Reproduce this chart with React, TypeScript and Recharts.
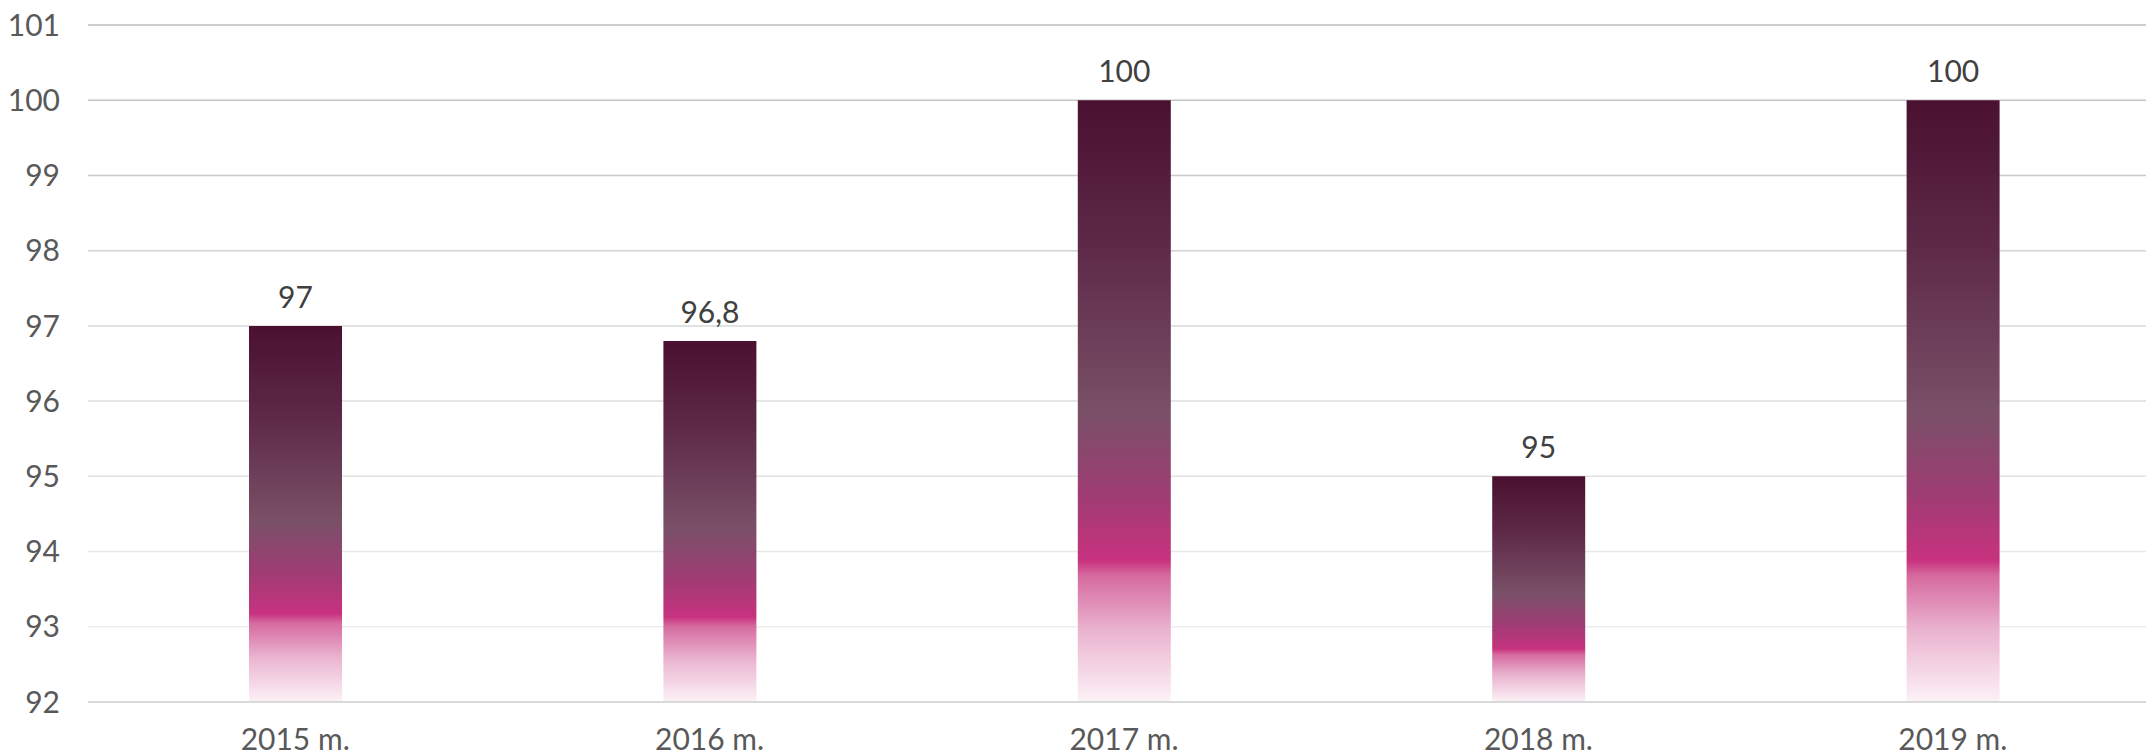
import React from "react";
import { BarChart, Bar, XAxis, YAxis, CartesianGrid, LabelList } from "recharts";

const years = ["2015 m.", "2016 m.", "2017 m.", "2018 m.", "2019 m."];
const values = [97, 96.8, 100, 95, 100];
const yTicks = [92, 93, 94, 95, 96, 97, 98, 99, 100, 101];

const data = years.map((year, i) => ({ year, value: values[i] }));

const font = "Lato, 'Open Sans', sans-serif";

export default function App() {
  return (
    <div style={{ position: "absolute", left: 0, top: 0, width: 2146, height: 755, overflow: "hidden", background: "#fff" }}>
      <BarChart width={2160} height={755} data={data} margin={{ top: 25, right: 0, left: 0, bottom: 0 }}>
        <defs>
          <linearGradient id="barGrad" x1="0" y1="0" x2="0" y2="1">
            <stop offset="0" stopColor="#4a1030" />
            <stop offset="0.25" stopColor="#5e2a48" />
            <stop offset="0.52" stopColor="#7a5068" />
            <stop offset="0.66" stopColor="#a03c74" />
            <stop offset="0.765" stopColor="#c8327f" />
            <stop offset="0.79" stopColor="#d66a9f" />
            <stop offset="0.88" stopColor="#eab3cf" />
            <stop offset="1" stopColor="#fcf2f7" />
          </linearGradient>
          <linearGradient id="gridGrad" gradientUnits="userSpaceOnUse" x1="0" y1="25" x2="0" y2="702">
            <stop offset="0" stopColor="#bdbdbd" />
            <stop offset="0.4" stopColor="#d6d6d6" />
            <stop offset="1" stopColor="#f2f2f2" />
          </linearGradient>
        </defs>
        <CartesianGrid vertical={false} stroke="url(#gridGrad)" strokeWidth={1.5} />
        <XAxis
          dataKey="year"
          axisLine={{ stroke: "#d9d9d9", strokeWidth: 2 }}
          tickLine={false}
          tickSize={0}
          tickMargin={27}
          height={53}
          tick={{ fontSize: 30, fill: "#595959", fontFamily: font }}
        />
        <YAxis
          domain={[92, 101]}
          ticks={yTicks}
          interval={0}
          axisLine={false}
          tickLine={false}
          tickSize={0}
          tickMargin={28}
          width={88}
          tick={{ fontSize: 30, fill: "#595959", fontFamily: font }}
        />
        <Bar dataKey="value" fill="url(#barGrad)" barSize={93} isAnimationActive={false}>
          <LabelList
            dataKey="value"
            position="top"
            offset={18}
            formatter={(v: number) => String(v).replace(".", ",")}
            style={{ fontSize: 30, fill: "#404040", fontFamily: font }}
          />
        </Bar>
      </BarChart>
    </div>
  );
}
